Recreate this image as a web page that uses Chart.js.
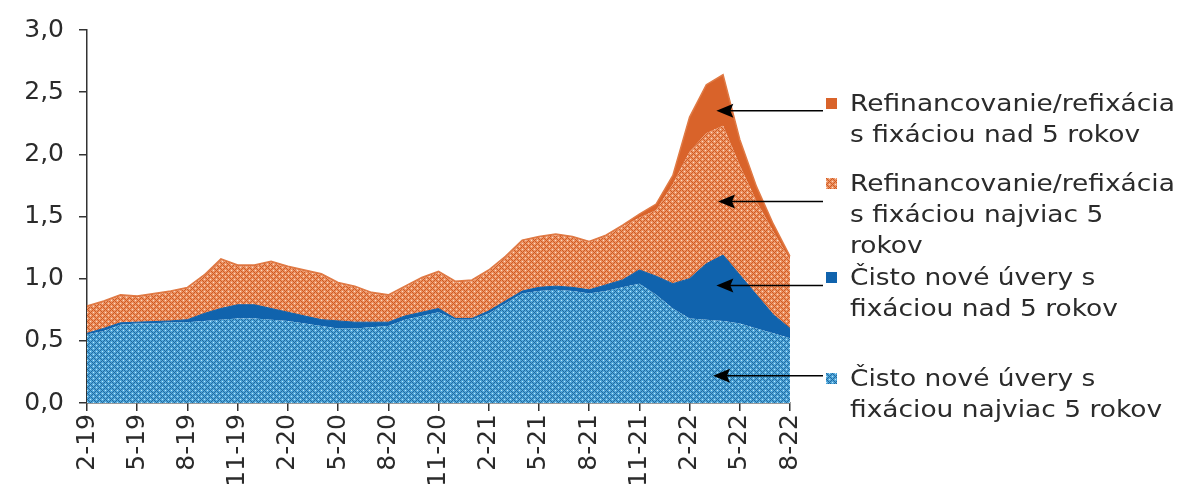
<!DOCTYPE html>
<html>
<head>
<meta charset="utf-8">
<script src="https://cdn.jsdelivr.net/npm/chart.js@4.4.1/dist/chart.umd.min.js"></script>
<style>
body { margin: 0; background: #fff; }
#wrap { position: relative; width: 1191px; height: 501px; }
#legend { position: absolute; left: 0; top: 0; font-family: "DejaVu Sans", Verdana, sans-serif; font-size: 23px; line-height: 31px; color: #2b2b2b; }
.item { position: absolute; left: 826px; white-space: nowrap; }
.item .mk { position: absolute; left: 0; top: 10px; width: 11px; height: 11px; }
.item .tx { position: absolute; left: 24px; top: 0; transform: scaleX(1.15); transform-origin: left top; }
</style>
</head>
<body>
<div id="wrap">
	<canvas id="c"></canvas>
	<div id="legend"></div>
</div>
<script>

// mesiace
var months = ['2-19','3-19','4-19','5-19','6-19','7-19','8-19','9-19','10-19','11-19','12-19',
	'1-20','2-20','3-20','4-20','5-20','6-20','7-20','8-20','9-20','10-20','11-20','12-20',
	'1-21','2-21','3-21','4-21','5-21','6-21','7-21','8-21','9-21','10-21','11-21','12-21',
	'1-22','2-22','3-22','4-22','5-22','6-22','7-22','8-22'];

// Čisto nové úvery s fixáciou najviac 5 rokov
var newShortFix = [0.55,0.58,0.63,0.64,0.64,0.65,0.65,0.66,0.67,0.68,0.68,0.67,0.66,0.64,0.62,0.60,0.60,0.61,0.62,0.67,0.70,0.73,
	0.67,0.67,0.72,0.80,0.88,0.90,0.91,0.90,0.88,0.90,0.93,0.96,0.87,0.76,0.68,0.67,0.66,0.64,0.60,0.56,0.52];
// Čisto nové úvery s fixáciou nad 5 rokov
var newLongFix = [0.01,0.02,0.015,0.01,0.015,0.01,0.02,0.06,0.09,0.11,0.11,0.09,0.07,0.06,0.05,0.06,0.05,0.04,0.03,0.03,0.03,0.03,
	0.01,0.01,0.02,0.02,0.02,0.03,0.03,0.03,0.03,0.05,0.06,0.11,0.15,0.20,0.32,0.45,0.53,0.39,0.27,0.15,0.08];
// Refinancovanie/refixácia s fixáciou najviac 5 rokov
var refiShortFix = [0.21,0.21,0.215,0.20,0.215,0.23,0.25,0.30,0.39,0.31,0.31,0.37,0.36,0.36,0.36,0.30,0.28,0.23,0.21,0.23,0.27,0.29,
	0.29,0.30,0.32,0.35,0.40,0.40,0.41,0.40,0.38,0.39,0.43,0.42,0.53,0.80,1.02,1.05,1.04,0.88,0.75,0.67,0.55];
// Refinancovanie/refixácia s fixáciou nad 5 rokov
var refiLongFix = [0.01,0.01,0.01,0.01,0.01,0.01,0.01,0.01,0.01,0.01,0.01,0.01,0.01,0.01,0.01,0.01,0.01,0.01,0.01,0.01,0.01,0.01,
	0.01,0.01,0.01,0.01,0.01,0.01,0.01,0.01,0.01,0.01,0.01,0.03,0.05,0.07,0.28,0.39,0.41,0.21,0.12,0.06,0.03];

var yTicks = [0, 0.5, 1.0, 1.5, 2.0, 2.5, 3.0];

var legendNames = [
	'Refinancovanie/refixácia<br>s fixáciou nad 5 rokov',
	'Refinancovanie/refixácia<br>s fixáciou najviac 5<br>rokov',
	'Čisto nové úvery s<br>fixáciou nad 5 rokov',
	'Čisto nové úvery s<br>fixáciou najviac 5 rokov'
];


function makeTile(bg, dark, light){
	var t = document.createElement('canvas');
	t.width = 6; t.height = 6;
	var g = t.getContext('2d');
	g.fillStyle = bg;
	g.fillRect(0, 0, 6, 6);
	g.fillStyle = dark;
	for (var x = 0; x < 6; x++) {
		for (var y = 0; y < 6; y++) {
			if ((x + y) % 6 == 0 || (x - y + 6) % 6 == 0) g.fillRect(x, y, 1, 1);
		}
	}
	g.fillStyle = light;
	g.fillRect(3, 0, 1, 1);
	g.fillRect(0, 3, 1, 1);
	return t;
}

var blueTile = makeTile('#4fa6da', '#23699e', '#bfe6f8');
var orangeTile = makeTile('#ec9364', '#cf5a22', '#fbdcc8');
var ctx = document.getElementById('c').getContext('2d');
var bluePattern = ctx.createPattern(blueTile, 'repeat');
var orangePattern = ctx.createPattern(orangeTile, 'repeat');


// legenda
var legendMarks = ['#d9632a', 'url(' + orangeTile.toDataURL() + ')', '#1063ad', 'url(' + blueTile.toDataURL() + ')'];
var legendTops = [88, 168, 262, 363];
var lg = document.getElementById('legend');
for (var k = 0; k < legendNames.length; k++) {
	var it = document.createElement('div');
	it.className = 'item';
	it.style.top = legendTops[k] + 'px';
	it.innerHTML = '<span class="mk" style="background:' + legendMarks[k] + '"></span><span class="tx">' + legendNames[k] + '</span>';
	lg.appendChild(it);
}


// sipky z legendy do grafu (x = index mesiaca, y = hodnota)
var arrows = [
	{ i: 37.6, v: 2.35 },
	{ i: 37.7, v: 1.62 },
	{ i: 37.6, v: 0.945 },
	{ i: 37.4, v: 0.22 }
];

var arrowPlugin = {
	id: 'arrows',
	afterDatasetsDraw: function(chart){
		var c = chart.ctx;
		var xs = chart.scales.x, ys = chart.scales.y;
		c.save();
		c.strokeStyle = '#000';
		c.fillStyle = '#000';
		c.lineWidth = 1.5;
		arrows.forEach(function(a){
			var tx = xs.getPixelForValue(a.i);
			var ty = ys.getPixelForValue(a.v);
			var ex = chart.chartArea.right + 33;
			c.beginPath();
			c.moveTo(tx + 10, ty);
			c.lineTo(ex, ty);
			c.stroke();
			c.beginPath();
			c.moveTo(tx, ty);
			c.lineTo(tx + 17, ty - 7);
			c.lineTo(tx + 14, ty);
			c.lineTo(tx + 17, ty + 7);
			c.closePath();
			c.fill();
		});
		c.restore();
	}
};


new Chart(ctx, {
	type: 'line',
	data: {
		labels: months,
		datasets: [
			{ label: 'Čisto nové úvery s fixáciou najviac 5 rokov', data: newShortFix, backgroundColor: bluePattern, fill: 'origin', borderWidth: 0, pointRadius: 0 },
			{ label: 'Čisto nové úvery s fixáciou nad 5 rokov', data: newLongFix, backgroundColor: '#1063ad', borderColor: '#1063ad', fill: '-1', borderWidth: 1, pointRadius: 0 },
			{ label: 'Refinancovanie/refixácia s fixáciou najviac 5 rokov', data: refiShortFix, backgroundColor: orangePattern, fill: '-1', borderWidth: 0, pointRadius: 0 },
			{ label: 'Refinancovanie/refixácia s fixáciou nad 5 rokov', data: refiLongFix, backgroundColor: '#d9632a', borderColor: '#e07a45', fill: '-1', borderWidth: 1.5, pointRadius: 0 }
		]
	},
	options: {
		responsive: true,
		maintainAspectRatio: false,
		animation: false,
		layout: { padding: { top: 22, right: 401, left: 0, bottom: 0 } },
		plugins: { legend: { display: false }, tooltip: { enabled: false } },
		elements: { line: { tension: 0 } },
		scales: {
			x: {
				offset: false,
				grid: { drawOnChartArea: false, drawTicks: true, tickLength: 8, color: '#333', lineWidth: 1.5 },
				border: { display: true, color: '#333', width: 1.5 },
				ticks: {
					autoSkip: false, maxRotation: 90, minRotation: 90, padding: 3,
					color: '#2b2b2b', font: { family: 'DejaVu Sans', size: 25 },
					callback: function(val, idx){ return idx % 3 == 0 ? months[idx] : null; }
				},
				afterFit: function(s){ s.height = 98; }
			},
			y: {
				stacked: true,
				min: 0, max: 3,
				afterBuildTicks: function(s){ s.ticks = yTicks.map(function(v){ return { value: v }; }); },
				grid: { drawOnChartArea: false, drawTicks: true, tickLength: 8, color: '#333', lineWidth: 1.5 },
				border: { display: true, color: '#333', width: 1.5 },
				ticks: {
					padding: 15, color: '#2b2b2b', font: { family: 'DejaVu Sans', size: 25 },
					callback: function(v){ return v.toFixed(1).replace('.', ','); }
				},
				afterFit: function(s){ s.width = 87; }
			}
		}
	},
	plugins: [arrowPlugin]
});

</script>
</body>
</html>
